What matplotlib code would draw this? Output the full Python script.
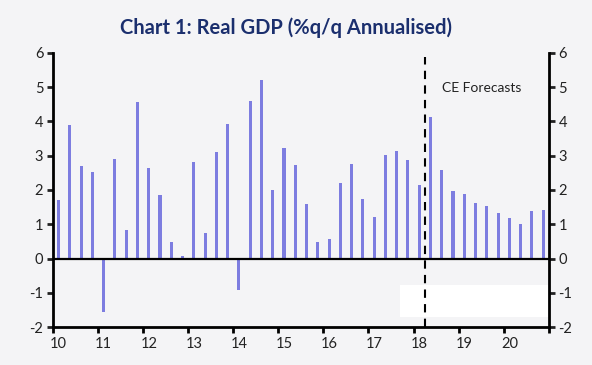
import matplotlib
matplotlib.use("Agg")
import matplotlib.pyplot as plt
import numpy as np
from matplotlib.patches import Rectangle

years = list(range(2010, 2021))
quarters = [y + (q - 0.5) / 4 for y in years for q in range(1, 5)]
gdp = [1.72, 3.91, 2.70, 2.52,
       -1.55, 2.91, 0.84, 4.57,
       2.65, 1.86, 0.47, 0.07,
       2.81, 0.75, 3.10, 3.94,
       -0.92, 4.59, 5.20, 1.99,
       3.23, 2.72, 1.60, 0.48,
       0.56, 2.21, 2.77, 1.73,
       1.21, 3.03, 3.13, 2.87,
       2.15, 4.14, 2.59, 1.96,
       1.87, 1.63, 1.52, 1.32,
       1.17, 1.01, 1.38, 1.41]
xtick_labels = ["10", "11", "12", "13", "14", "15", "16", "17", "18", "19", "20"]
yticks = [-2, -1, 0, 1, 2, 3, 4, 5, 6]
forecast_start = 2018.25
title = "Chart 1: Real GDP (%q/q Annualised)"

plt.rcParams['font.family'] = ['Lato', 'DejaVu Sans']
bg = '#f4f4f6'
fig = plt.figure(figsize=(5.92, 3.65), dpi=100, facecolor=bg)
ax = fig.add_axes([0.0895, 0.104, 0.8375, 0.751], facecolor=bg)

ax.bar(quarters, gdp, width=0.068, color='#7d7de0', zorder=2)
ax.axhline(0, color='black', lw=1.6, zorder=3)

ax.set_xlim(2010, 2021)
ax.set_ylim(-2, 6)

# white patch present in reference
ax.add_patch(Rectangle((2017.69, -1.72), 3.29, 0.96, facecolor='white',
                       edgecolor='none', zorder=4))
ax.plot([forecast_start, forecast_start], [-2, 5.88], color='black', lw=1.5,
        dashes=(4, 3), zorder=5)
ax.text(2018.62, 4.97, "CE Forecasts", fontsize=10, color='#222222',
        va='center', ha='left')

for s in ['left', 'right', 'bottom']:
    ax.spines[s].set_linewidth(2)
    ax.spines[s].set_color('black')
ax.spines['top'].set_visible(False)

ax.set_yticks(yticks)
ax.set_yticklabels([str(v) for v in yticks])
ax.yaxis.set_ticks_position('both')
ax.tick_params(axis='y', which='both', labelleft=True, labelright=True,
               direction='out', length=4, width=2, labelsize=10.5, pad=3,
               colors='#222222')

ax.set_xticks(years + [2021])
ax.set_xticklabels([''] * 12)
ax.set_xticks([y + 0.125 for y in years], minor=True)
ax.set_xticklabels(xtick_labels, minor=True)
ax.tick_params(axis='x', which='major', direction='out', length=4, width=2)
ax.tick_params(axis='x', which='minor', length=0, labelsize=10.5, pad=7,
               colors='#222222')

fig.text(0.483, 0.925, title, ha='center', va='center', fontsize=14.5,
         fontweight='bold', color='#1b2f6e')

fig.savefig('out.png', dpi=100, facecolor=bg)
